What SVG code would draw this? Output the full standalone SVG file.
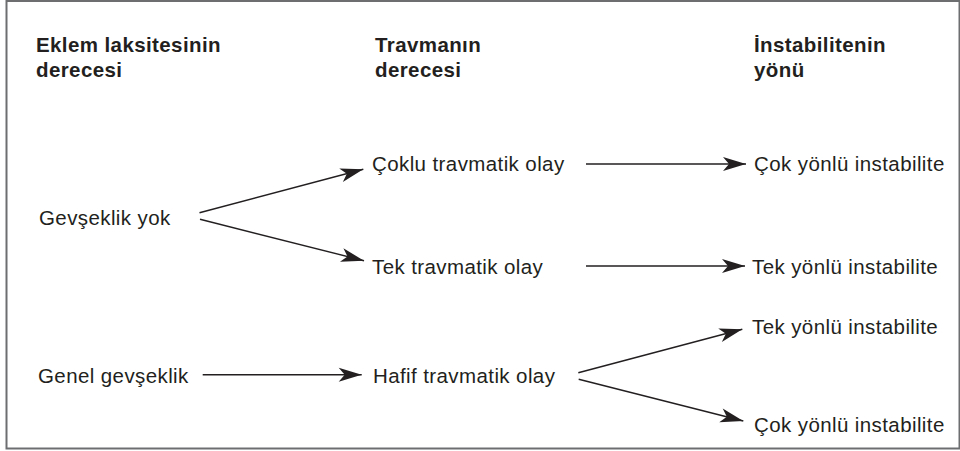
<svg xmlns="http://www.w3.org/2000/svg" width="960" height="451" viewBox="0 0 960 451">
<style>
text{font-family:"Liberation Sans",Arial,sans-serif;font-size:20.5px;fill:#231f20;letter-spacing:0.4px}
.h{font-weight:bold}
.c{stroke:#231f20;stroke-width:1.4;fill:none}
</style>
<defs>
<marker id="ah" markerUnits="userSpaceOnUse" markerWidth="26" markerHeight="16" viewBox="-24 -8 26 16" refX="0" refY="0" orient="auto">
<path d="M0,0 L-23,-7 L-17,0 L-23,7 Z" fill="#231f20"/>
</marker>
</defs>
<rect x="6.5" y="1" width="953" height="447.5" fill="#fff" stroke="#6d6e70" stroke-width="2"/>
<g id="h1"><text class="h" x="36" y="52">Eklem laksitesinin</text><text class="h" x="36" y="77">derecesi</text></g>
<g id="h2"><text class="h" x="375" y="52">Travmanın</text><text class="h" x="375" y="77">derecesi</text></g>
<g id="h3"><text class="h" x="754" y="52">İnstabilitenin</text><text class="h" x="754" y="77">yönü</text></g>
<g id="n1"><text x="39" y="224.5">Gevşeklik yok</text></g>
<g id="n2"><text x="372" y="170.5">Çoklu travmatik olay</text></g>
<g id="n3"><text x="372" y="273.5">Tek travmatik olay</text></g>
<g id="n4"><text x="38" y="382.5">Genel gevşeklik</text></g>
<g id="n5"><text x="373" y="382.5">Hafif travmatik olay</text></g>
<g id="n6"><text x="754" y="170.5">Çok yönlü instabilite</text></g>
<g id="n7"><text x="752" y="273.5">Tek yönlü instabilite</text></g>
<g id="n8"><text x="752" y="333.5">Tek yönlü instabilite</text></g>
<g id="n9"><text x="754" y="431.5">Çok yönlü instabilite</text></g>
<g id="connectors">
<line class="c" x1="199.5" y1="212.7" x2="363.3" y2="169.3" marker-end="url(#ah)"/>
<line class="c" x1="200" y1="219.3" x2="364" y2="260.7" marker-end="url(#ah)"/>
<line class="c" x1="586" y1="164" x2="746" y2="164" marker-end="url(#ah)"/>
<line class="c" x1="586" y1="266" x2="745" y2="266" marker-end="url(#ah)"/>
<line class="c" x1="202.7" y1="374.7" x2="361.7" y2="374.7" marker-end="url(#ah)"/>
<line class="c" x1="578.3" y1="372.7" x2="742.3" y2="329.3" marker-end="url(#ah)"/>
<line class="c" x1="578.7" y1="379.3" x2="743.3" y2="421" marker-end="url(#ah)"/>
</g>
</svg>
